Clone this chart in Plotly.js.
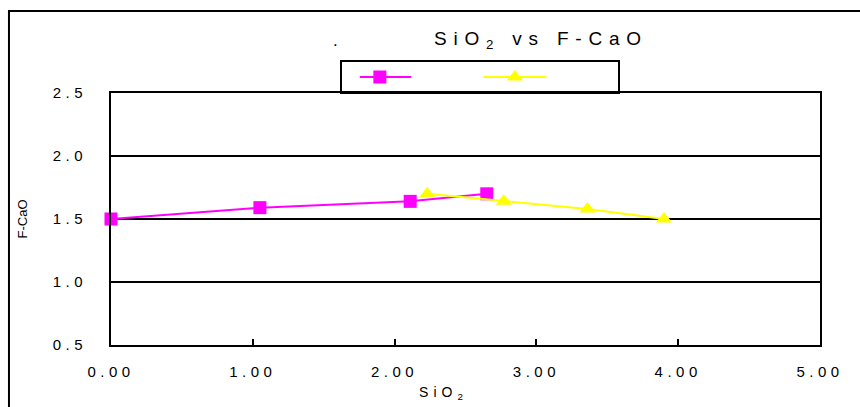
<!DOCTYPE html>
<html>
<head>
<meta charset="utf-8">
<script src="https://cdn.plot.ly/plotly-3.0.1.min.js"></script>
<style>
  html, body { margin: 0; padding: 0; background: #fff; }
  #chart { width: 860px; height: 407px; }
  .xtick text, .ytick text { letter-spacing: 4.5px; }
  .gtitle { letter-spacing: 6.8px; }
  .g-xtitle text { letter-spacing: 5px; }
  .g-xtitle { transform: translateX(-22px); }
  .legendlines path { transform: translateX(-22px) scaleX(2.1); }
</style>
</head>
<body>
<div id="chart"></div>
<script>
// Data
const seriesA_x = [0.00, 1.05, 2.11, 2.65];
const seriesA_y = [1.50, 1.59, 1.64, 1.70];
const seriesB_x = [2.23, 2.77, 3.36, 3.90];
const seriesB_y = [1.70, 1.64, 1.58, 1.50];
const xTickVals = [0, 1, 2, 3, 4, 5];
const xTickText = ["0.00", "1.00", "2.00", "3.00", "4.00", "5.00"];
const yTickVals = [0.5, 1.0, 1.5, 2.0, 2.5];
const yTickText = ["0.5", "1.0", "1.5", "2.0", "2.5"];

const traces = [
  {
    x: seriesA_x, y: seriesA_y, type: 'scatter', mode: 'lines+markers', name: ' ',
    line: {color: '#ff00ff', width: 2},
    marker: {symbol: 'square', size: 13, color: '#ff00ff'},
    cliponaxis: false
  },
  {
    x: seriesB_x, y: seriesB_y, type: 'scatter', mode: 'lines+markers', name: ' ',
    line: {color: '#ffff00', width: 2},
    marker: {symbol: 'triangle-up', size: 14, color: '#ffff00'},
    cliponaxis: false
  }
];

const layout = {
  width: 860, height: 407,
  margin: {l: 111, r: 40, t: 93, b: 62, pad: 0},
  paper_bgcolor: '#ffffff', plot_bgcolor: '#ffffff',
  font: {family: 'Liberation Sans, Arial, sans-serif', color: '#000000', size: 14},
  title: {
    text: 'SiO<sub>2</sub> vs F-CaO',
    font: {size: 19, color: '#000'},
    x: 0.629, xanchor: 'center', xref: 'container',
    y: 0.905, yanchor: 'middle', yref: 'container'
  },
  showlegend: true,
  legend: {
    orientation: 'h', x: 0.351, xanchor: 'left', y: 1.063, yanchor: 'middle',
    bgcolor: 'rgba(0,0,0,0)', borderwidth: 0,
    entrywidth: 90, font: {size: 12}
  },
  xaxis: {
    range: [0, 5], tickvals: xTickVals, ticktext: xTickText,
    showgrid: false, zeroline: false,
    showline: true, linecolor: '#000', linewidth: 2, mirror: true,
    ticks: 'inside', ticklen: 6, tickwidth: 2, tickcolor: '#000',
    tickfont: {size: 15}, ticklabelstandoff: 12,
    title: {text: 'SiO<sub>2</sub>', font: {size: 14}, standoff: 8}
  },
  yaxis: {
    range: [0.5, 2.5], tickvals: yTickVals, ticktext: yTickText,
    showgrid: true, gridcolor: '#000', gridwidth: 1.5, zeroline: false,
    showline: true, linecolor: '#000', linewidth: 2, mirror: true,
    ticks: '', tickfont: {size: 15}, ticklabelstandoff: 19,
    title: {text: 'F-CaO', font: {size: 13}, standoff: 22}
  },
  shapes: [
    {type: 'rect', xref: 'paper', yref: 'paper', x0: -0.1439, x1: 1.3, y0: -0.6, y1: 1.325,
     line: {color: '#000', width: 2}, fillcolor: 'rgba(0,0,0,0)', layer: 'below'},
    {type: 'rect', xref: 'paper', yref: 'paper', x0: 0.3244, x1: 0.7165, y0: 1.0, y1: 1.127,
     line: {color: '#000', width: 2}, fillcolor: 'rgba(0,0,0,0)', layer: 'below'}
  ],
  annotations: [
    {text: '.', xref: 'paper', yref: 'paper', x: 0.317, y: 1.21, showarrow: false,
     font: {size: 17}, xanchor: 'center', yanchor: 'middle'}
  ]
};

Plotly.newPlot('chart', traces, layout, {displayModeBar: false, staticPlot: true});
</script>
</body>
</html>
